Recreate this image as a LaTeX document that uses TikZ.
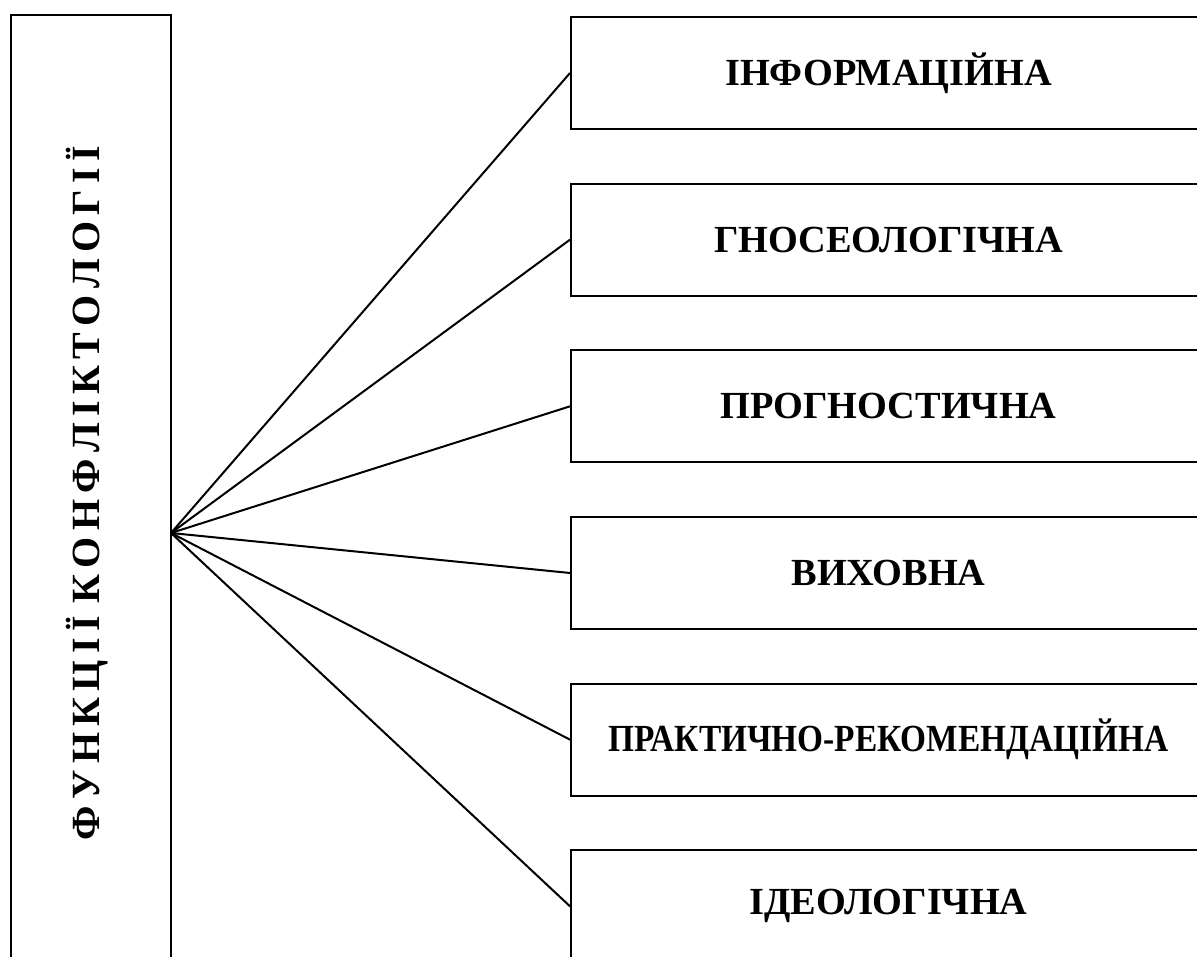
\documentclass[tikz,border=0pt]{standalone}
\usepackage{fontspec}
\setmainfont{Liberation Serif}
\usetikzlibrary{positioning}

\begin{document}
\begin{tikzpicture}[x=0.3pt,y=0.3pt,node distance=50pt,line width=0.6pt,
    func/.style={draw,minimum width=190.5pt,minimum height=33.6pt,
      inner sep=0pt,font=\bfseries\fontsize{11.5}{14}\selectfont}]

  \useasboundingbox (0,0) rectangle (1197,956);

  \node[draw,minimum width=48pt,minimum height=289.5pt] (funk) at (91,458.5) {};
  \node[rotate=90,font=\bfseries\fontsize{12}{14}\selectfont] (funktext) at (87,463)
    {\spaceskip=1.9pt Ф У Н К Ц І Ї \ К О Н Ф Л І К Т О Л О Г І Ї};
  \coordinate (hub) at (171,423);

  \node[func] (inf) at (888.5,883)   {ІНФОРМАЦІЙНА};
  \node[func] (gno) [below of=inf]   {ГНОСЕОЛОГІЧНА};
  \node[func] (pro) [below of=gno]   {ПРОГНОСТИЧНА};
  \node[func] (vyh) [below of=pro]   {ВИХОВНА};
  \node[func] (pra) [below of=vyh]   {\scalebox{0.87}[1]{ПРАКТИЧНО-РЕКОМЕНДАЦІЙНА}};
  \node[func] (ide) [below of=pra]   {ІДЕОЛОГІЧНА};

  \foreach \f in {inf,gno,pro,vyh,pra,ide}
    \draw (hub) -- (\f.west);
\end{tikzpicture}
\end{document}
